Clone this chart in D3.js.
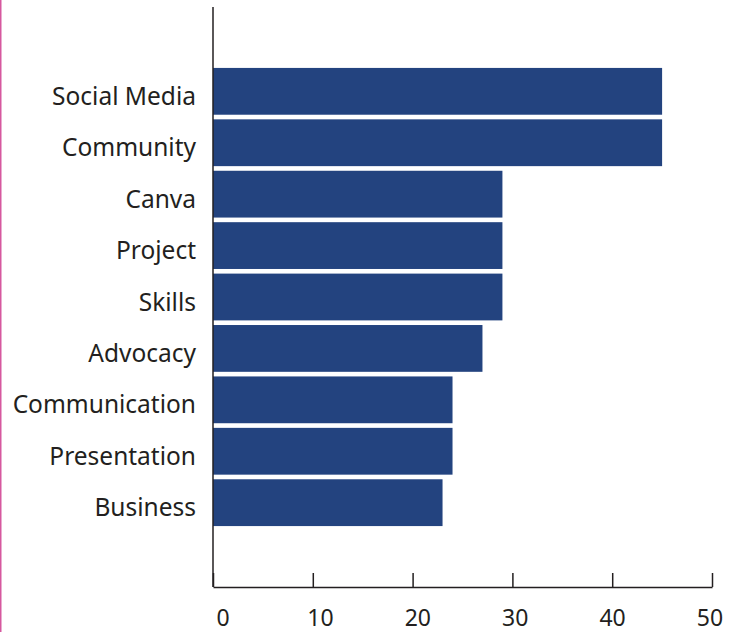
<!DOCTYPE html>
<html>
<head>
<meta charset="utf-8">
<script src="https://cdn.jsdelivr.net/npm/d3@7"></script>
<style>
  body { margin: 0; background: #fff; }
  svg { display: block; }
</style>
</head>
<body>
<div id="chart"></div>
<script>
(function() {
	"use strict";

	var categories = ["Social Media", "Community", "Canva", "Project", "Skills",
		"Advocacy", "Communication", "Presentation", "Business"];
	var values = [45, 45, 29, 29, 29, 27, 24, 24, 23];
	var tickValues = [0, 10, 20, 30, 40, 50];

	var w = 738;
	var h = 632;
	var left = 213, right = 712, top = 7, bottom = 587;
	var font = "'Noto Sans', sans-serif";

	var svg = d3.select("#chart").append("svg")
		.attr("width", w)
		.attr("height", h);

	// pink edge line at the left
	svg.append("line")
		.attr("x1", 0.75).attr("x2", 0.75)
		.attr("y1", 0).attr("y2", h)
		.attr("stroke", "#d6589f")
		.attr("stroke-width", 1.5);

	var x = d3.scaleLinear().domain([0, 50]).range([left, right]);
	// tick labels sit a little off their ticks in the original
	var xLabel = d3.scaleLinear().domain([0, 50]).range([223, 710]);

	var y = d3.scaleBand()
		.domain(categories)
		.range([top, bottom])
		.paddingInner(0.09)
		.paddingOuter(1.185);

	svg.selectAll("rect.bar")
		.data(values)
		.enter()
		.append("rect")
		.attr("class", "bar")
		.attr("x", x(0))
		.attr("y", function(d, i) { return y(categories[i]); })
		.attr("width", function(d) { return x(d) - x(0); })
		.attr("height", y.bandwidth())
		.attr("fill", "#23437f");

	// category labels
	svg.selectAll("text.cat")
		.data(categories)
		.enter()
		.append("text")
		.attr("class", "cat")
		.text(function(d) { return d; })
		.attr("x", 196)
		.attr("y", function(d) { return y(d) + y.bandwidth() / 2 + 13.5; })
		.attr("text-anchor", "end")
		.attr("font-family", font)
		.attr("font-size", 24.5)
		.attr("fill", "#231f20");

	// y axis line
	svg.append("line")
		.attr("x1", left).attr("x2", left)
		.attr("y1", top).attr("y2", bottom)
		.attr("stroke", "#231f20")
		.attr("stroke-width", 1.5);

	// x axis, ticks pointing up
	var xAxis = d3.axisBottom(x)
		.tickValues(tickValues)
		.tickSizeInner(-14)
		.tickSizeOuter(0)
		.tickFormat("");

	var gx = svg.append("g")
		.attr("transform", "translate(0," + bottom + ")")
		.call(xAxis);
	gx.select(".domain").attr("stroke", "#231f20").attr("stroke-width", 1.5);
	gx.selectAll(".tick line").attr("stroke", "#231f20").attr("stroke-width", 1.5);

	svg.selectAll("text.tick-label")
		.data(tickValues)
		.enter()
		.append("text")
		.attr("class", "tick-label")
		.text(function(d) { return d; })
		.attr("x", function(d) { return xLabel(d); })
		.attr("y", 626)
		.attr("text-anchor", "middle")
		.attr("font-family", font)
		.attr("font-size", 23)
		.attr("fill", "#231f20");
}());
</script>
</body>
</html>
